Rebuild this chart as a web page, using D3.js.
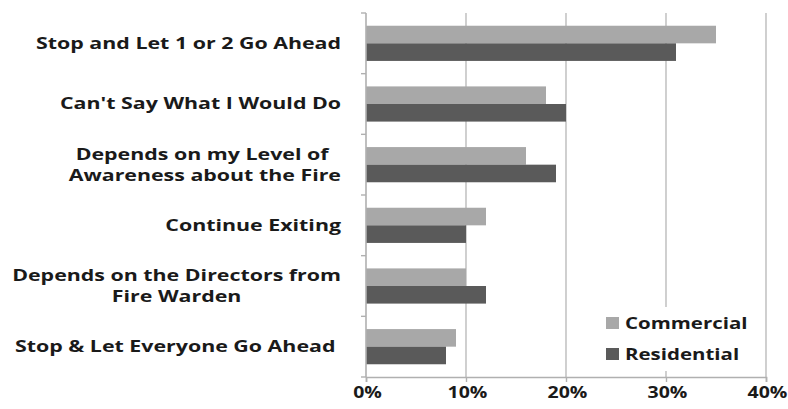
<!DOCTYPE html>
<html>
<head>
<meta charset="utf-8">
<script src="https://cdn.jsdelivr.net/npm/d3@7"></script>
<style>
  html, body { margin: 0; padding: 0; background: #fff; }
  svg { display: block; }
  text { font-family: "Open Sans", sans-serif; font-weight: 700; fill: #1a1a1a; white-space: pre; }
</style>
</head>
<body>
<svg id="chart" width="788" height="409"></svg>
<script>
// Responses to an evacuee meeting others on the stairs
const categories = [
  ["Stop and Let 1 or 2 Go Ahead"],
  ["Can't Say What I Would Do"],
  ["Depends on my Level of ", "Awareness about the Fire"],
  ["Continue Exiting"],
  ["Depends on the Directors from", "Fire Warden"],
  ["Stop & Let Everyone Go Ahead "]
];
const seriesNames = ["Commercial", "Residential"];
const commercial = [35, 18, 16, 12, 10, 9];
const residential = [31, 20, 19, 10, 12, 8];
const xTicks = [0, 10, 20, 30, 40];
const seriesColors = ["#a8a8a8", "#5a5a5a"];

const svg = d3.select("#chart");
const margin = { top: 13, right: 22, bottom: 32, left: 366 };
const width = 788 - margin.left - margin.right;
const height = 409 - margin.top - margin.bottom;

// the typeface is set wide; glyphs are widened horizontally by these factors
const labelStretch = 1.38;
const tickStretch = 1.22;
const legendStretch = 1.24;

const g = svg.append("g").attr("transform", `translate(${margin.left},${margin.top})`);

const keys = categories.map((c, i) => i);
const y = d3.scaleBand().domain(keys).range([0, height]).paddingInner(0.42).paddingOuter(0.21);
const ySub = d3.scaleBand().domain(seriesNames).range([0, y.bandwidth()]);
const x = d3.scaleLinear().domain([0, 40]).range([0, width]);
const yOuter = d3.scaleBand().domain(keys).range([0, height]);

// vertical gridlines
g.append("g").selectAll("line")
  .data(xTicks.filter(t => t > 0))
  .join("line")
  .attr("x1", d => x(d)).attr("x2", d => x(d))
  .attr("y1", 0).attr("y2", height)
  .attr("stroke", "#c4c4c4").attr("stroke-width", 1.6);

// bars
const series = [commercial, residential];
const groups = g.append("g").selectAll("g")
  .data(keys)
  .join("g")
  .attr("transform", i => `translate(0,${y(i)})`);
groups.selectAll("rect")
  .data(i => seriesNames.map((s, k) => ({ s, k, v: series[k][i] })))
  .join("rect")
  .attr("x", 0)
  .attr("y", d => ySub(d.s))
  .attr("width", d => x(d.v))
  .attr("height", ySub.bandwidth())
  .attr("fill", d => seriesColors[d.k]);

// left axis line with ticks between categories
const axisColor = "#b0b0b0";
g.append("line").attr("x1", 0).attr("x2", 0).attr("y1", 0).attr("y2", height)
  .attr("stroke", axisColor).attr("stroke-width", 1.6);
g.append("g").selectAll("line")
  .data(keys.concat([keys.length]))
  .join("line")
  .attr("x1", -5).attr("x2", 0)
  .attr("y1", i => i < keys.length ? yOuter(i) : height)
  .attr("y2", i => i < keys.length ? yOuter(i) : height)
  .attr("stroke", axisColor).attr("stroke-width", 1.4);

// bottom axis
const xAxis = d3.axisBottom(x).tickValues(xTicks).tickFormat(d => d + "%").tickSize(5).tickPadding(6);
const xg = g.append("g").attr("transform", `translate(0,${height})`).call(xAxis);
xg.select(".domain").attr("stroke", axisColor).attr("stroke-width", 1.6);
xg.selectAll(".tick line").attr("stroke", axisColor).attr("stroke-width", 1.4);
xg.selectAll(".tick text")
  .attr("font-size", 16).attr("fill", "#1a1a1a")
  .attr("y", 0).attr("dy", "0.35em")
  .attr("transform", `translate(1,${15}) scale(${tickStretch},1)`)
  .style("font-family", "'Open Sans', sans-serif").style("font-weight", 700);

// category labels: block right-aligned, wrapped lines centred within the block
const labelRight = -25;
const lineHeight = 21;
const labelGroups = g.append("g").selectAll("g")
  .data(keys)
  .join("g")
  .attr("transform", i => `translate(${labelRight},${yOuter(i) + yOuter.bandwidth() / 2}) scale(${labelStretch},1)`);
labelGroups.each(function(i) {
  const lines = categories[i];
  const sel = d3.select(this);
  const off = -(lines.length - 1) * lineHeight / 2;
  const texts = lines.map((t, j) => sel.append("text")
    .attr("font-size", 15.5)
    .attr("y", off + j * lineHeight)
    .attr("dy", "0.35em")
    .text(t));
  const widths = texts.map(t => t.node().getComputedTextLength());
  const maxW = d3.max(widths);
  texts.forEach(t => t.attr("x", -maxW / 2).attr("text-anchor", "middle"));
});

// legend
const legend = g.append("g").attr("transform", `translate(${x(23.4)},${height - 70})`);
legend.append("rect").attr("x", 0).attr("y", 0).attr("width", 162).attr("height", 64).attr("fill", "#fff");
seriesNames.forEach((s, k) => {
  const row = legend.append("g").attr("transform", `translate(6,${16 + k * 31})`);
  row.append("rect").attr("x", 0).attr("y", -6).attr("width", 13).attr("height", 12).attr("fill", seriesColors[k]);
  row.append("text").attr("transform", `translate(19,0) scale(${legendStretch},1)`)
    .attr("dy", "0.35em").attr("font-size", 16.5).text(s);
});
</script>
</body>
</html>
